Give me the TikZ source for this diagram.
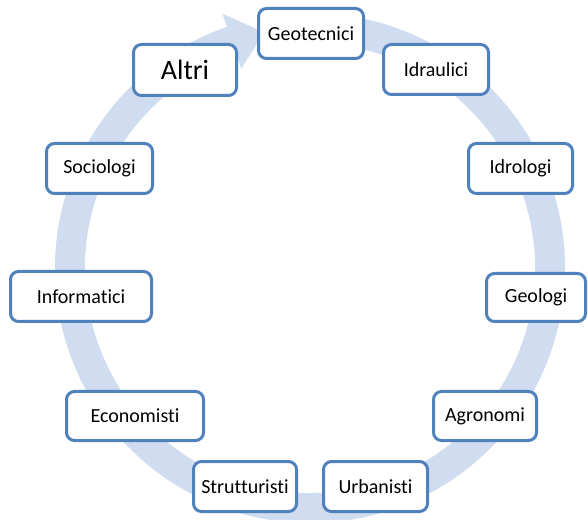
\documentclass[tikz,border=0pt]{standalone}
\usepackage{fontspec}
\setmainfont{Carlito}[Ligatures={NoCommon}]
\usetikzlibrary{calc}
\definecolor{ringc}{RGB}{208,220,240}
\definecolor{bordc}{RGB}{79,129,189}
\tikzset{
  box/.style={draw=bordc, line width=1.5pt, rounded corners=4pt, fill=white,
    inner sep=0pt, font=\fontsize{10}{12}\selectfont, text=black},
}
\begin{document}
\begin{tikzpicture}[x=0.5pt,y=0.5pt]
\useasboundingbox (0,0) rectangle (588,519);
\coordinate (C) at (310,251);
% circular arrow
\fill[ringc] ($(C)+(88:127.5pt)$) arc[start angle=88,end angle=-251,radius=127.5pt]
  -- ($(C)+(109:134.5pt)$) -- ($(C)+(101:120pt)$) -- ($(C)+(109:105.5pt)$)
  -- ($(C)+(109:112.5pt)$) arc[start angle=109,end angle=448,radius=112.5pt] -- cycle;
% boxes
\node[box, minimum width=52.5pt, minimum height=25pt] (geo) at (311,485.5) {Geotecnici};
\node[box, minimum width=52.5pt, minimum height=25pt] (idr) at (436,449.5) {Idraulici};
\node[box, minimum width=52pt, minimum height=25pt] (idrol) at (520.5,350.5) {Idrologi};
\node[box, minimum width=49.5pt, minimum height=24pt] (geol) at (536,221.5) {Geologi};
\node[box, minimum width=51.5pt, minimum height=24.5pt] (agr) at (485,103) {Agronomi};
\node[box, minimum width=52pt, minimum height=25pt] (urb) at (375.5,32.5) {Urbanisti};
\node[box, minimum width=51.5pt, minimum height=25pt] (str) at (245,32.5) {Strutturisti};
\node[box, minimum width=68.5pt, minimum height=24.5pt] (eco) at (135,103) {Economisti};
\node[box, minimum width=70.5pt, minimum height=25pt] (inf) at (81,222.5) {Informatici};
\node[box, minimum width=53pt, minimum height=25pt] (soc) at (99.5,350.5) {Sociologi};
\node[box, minimum width=51.5pt, minimum height=25.5pt, font=\fontsize{14}{16}\selectfont] (alt) at (185,449) {Altri};
\end{tikzpicture}
\end{document}
